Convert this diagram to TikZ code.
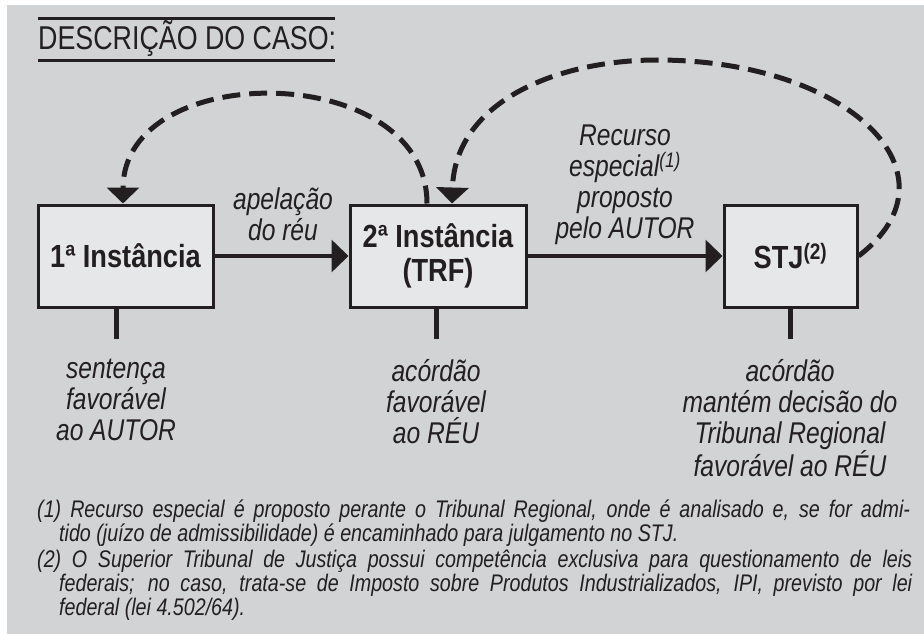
\documentclass[tikz,border=0pt]{standalone}
\usepackage{graphicx}
\usepackage{fontspec}
\setmainfont{Liberation Sans}[FakeStretch=0.82]
\newfontfamily\titlefont{Liberation Sans}
\newfontfamily\boxfont{Liberation Sans}[FakeStretch=0.85]
\usetikzlibrary{arrows.meta}
\definecolor{bggray}{HTML}{D1D3D4}
\definecolor{boxgray}{HTML}{E6E7E8}
\definecolor{ink}{HTML}{231F20}

\begin{document}
\begin{tikzpicture}[x=1pt,y=-1pt,
    court/.style={draw=ink, fill=boxgray, line width=3pt, minimum height=102pt, inner sep=0pt,
        text=ink, align=center, font=\boxfont\bfseries\fontsize{32}{34}\selectfont},
    result/.style={anchor=north, inner sep=0pt, align=center, text=ink,
        font=\itshape\fontsize{30}{31}\selectfont},
    stem/.style={draw=ink, line width=5pt, shorten >=20pt},
    flow/.style={draw=ink, line width=3.5pt, -{Triangle[width=32pt,length=17pt]}},
    back/.style={draw=ink, line width=5pt, dash pattern=on 18pt off 9pt,
        -{Triangle[width=32pt,length=16pt]}},
    note/.style={anchor=base west, inner sep=0pt, text=ink,
        font=\itshape\fontsize{24}{25}\selectfont}]
        \useasboundingbox (0,0) rectangle (924,634);
        \fill[white] (0,0) rectangle (924,634);
        \fill[bggray] (7,5) rectangle (924,634);

        % title
        \node[anchor=base west, inner sep=0pt, text=ink]
            (title) at (38,50) {\resizebox{298pt}{29pt}{\titlefont DESCRIÇÃO DO CASO:}};
        \draw[ink, line width=3pt] (38,19) -- (335,19);
        \draw[ink, line width=3pt] (38,61) -- (335,61);

        % courts
        \def\y{256}
        \node[court, minimum width=175pt] (first) at (125.5,\y) {1ª Instância};
        \node[court, minimum width=176pt] (second) at (438,\y) {2ª Instância\\(TRF)};
        \node[court, minimum width=133pt] (stj) at (790.5,\y) {STJ\textsuperscript{(2)}};

        \draw[flow] (first.east) -- (second.west);
        \draw[flow] (second.east) -- (stj.west);
        \node[result] (appeal) at (283,188) {apelação\\do réu};
        \node[result] (special) at (625,125) {Recurso\\especial\textsuperscript{(1)}\\proposto\\pelo AUTOR};

        % decisions
        \node[result] (firstres) at (116,359) {sentença\\favorável\\ao AUTOR};
        \node[result] (secondres) at (436,359) {acórdão\\favorável\\ao RÉU};
        \node[result] (stjres) at (790,359) {acórdão\\mantém decisão do\\Tribunal Regional\\favorável ao RÉU};
        \draw[stem] (first.south -| firstres.north) -- (firstres.north);
        \draw[stem] (second.south -| secondres.north) -- (secondres.north);
        \draw[stem] (stj.south -| stjres.north) -- (stjres.north);

        % dashed returns
        \draw[back] ([xshift=-11pt]second.north) .. controls (427,60) and (123,58) .. ([xshift=-2.5pt]first.north);
        \draw[back] (stj.east) .. controls (965,175) and (850,60) .. (657,60)
            .. controls (560,60) and (455,100) .. ([xshift=14pt]second.north);

        % notes
        \node[note] (n1) at (37,517) {\makebox[873pt][s]{(1) Recurso especial é proposto perante o Tribunal Regional, onde é analisado e, se for admi-}};
        \node[note] (n1b) at (59,541) {tido (juízo de admissibilidade) é encaminhado para julgamento no STJ.};
        \node[note] (n2) at (37,567) {\makebox[875pt][s]{(2) O Superior Tribunal de Justiça possui competência exclusiva para questionamento de leis}};
        \node[note] (n2b) at (59,591) {\makebox[853pt][s]{federais; no caso, trata-se de Imposto sobre Produtos Industrializados, IPI, previsto por lei}};
        \node[note] (n2c) at (59,615) {federal (lei 4.502/64).};
\end{tikzpicture}
\end{document}
